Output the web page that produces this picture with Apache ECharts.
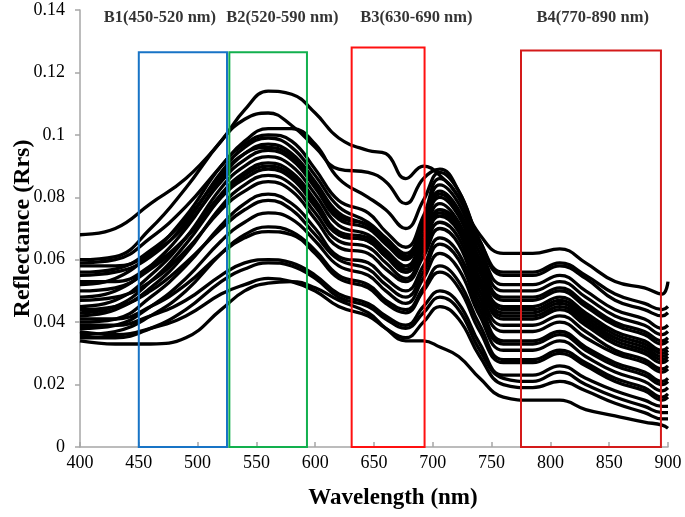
<!DOCTYPE html>
<html>
<head>
<meta charset="utf-8">
<script src="https://cdn.jsdelivr.net/npm/echarts@6/dist/echarts.min.js"></script>
<style>html,body{margin:0;padding:0;background:#fff;}#c{width:685px;height:517px;}</style>
</head>
<body>
<div id="c"></div>
<script>
// Wavelength sample points (nm)
var wavelengths = [400, 430, 460, 490, 520, 540, 560, 580, 600, 620, 645, 660, 677, 692, 706, 722, 740, 760, 785, 808, 830, 855, 880, 895, 900];

// Reflectance spectra (Rrs)
var c1  = [0.068, 0.070, 0.078, 0.086, 0.098, 0.108, 0.114, 0.113, 0.107, 0.099, 0.095, 0.094, 0.086, 0.090, 0.087, 0.080, 0.068, 0.062, 0.062, 0.0635, 0.059, 0.053, 0.051, 0.049, 0.053];
var c2  = [0.060, 0.061, 0.070, 0.083, 0.098, 0.105, 0.107, 0.103, 0.096, 0.089, 0.088, 0.085, 0.078, 0.086, 0.089, 0.082, 0.066, 0.056, 0.056, 0.059, 0.055, 0.049, 0.046, 0.044, 0.045];
var c3  = [0.059, 0.060, 0.067, 0.077, 0.090, 0.098, 0.102, 0.102, 0.097, 0.086, 0.080, 0.076, 0.070, 0.079, 0.088, 0.082, 0.066, 0.055, 0.055, 0.058, 0.054, 0.047, 0.044, 0.042, 0.043];
var c4  = [0.052, 0.054, 0.062, 0.074, 0.090, 0.097, 0.100, 0.098, 0.089, 0.079, 0.075, 0.069, 0.064, 0.074, 0.086, 0.080, 0.064, 0.052, 0.052, 0.055, 0.050, 0.044, 0.041, 0.038, 0.039];
var c5  = [0.055, 0.056, 0.061, 0.072, 0.088, 0.096, 0.099, 0.096, 0.087, 0.077, 0.072, 0.067, 0.062, 0.072, 0.084, 0.078, 0.062, 0.050, 0.050, 0.053, 0.048, 0.042, 0.039, 0.036, 0.037];
var c6  = [0.048, 0.050, 0.058, 0.070, 0.086, 0.094, 0.097, 0.094, 0.085, 0.075, 0.071, 0.066, 0.061, 0.071, 0.082, 0.076, 0.060, 0.048, 0.048, 0.051, 0.046, 0.040, 0.037, 0.034, 0.035];
var c7  = [0.058, 0.058, 0.062, 0.071, 0.085, 0.092, 0.095, 0.092, 0.083, 0.073, 0.070, 0.065, 0.060, 0.070, 0.080, 0.074, 0.058, 0.047, 0.047, 0.050, 0.045, 0.039, 0.036, 0.033, 0.034];
var c8  = [0.045, 0.047, 0.055, 0.067, 0.083, 0.090, 0.093, 0.090, 0.081, 0.071, 0.068, 0.063, 0.058, 0.068, 0.078, 0.072, 0.056, 0.045, 0.045, 0.048, 0.043, 0.037, 0.034, 0.031, 0.032];
var c9  = [0.050, 0.051, 0.057, 0.067, 0.081, 0.088, 0.091, 0.088, 0.079, 0.069, 0.067, 0.062, 0.057, 0.066, 0.076, 0.071, 0.054, 0.043, 0.043, 0.046, 0.041, 0.035, 0.032, 0.029, 0.030];
var c10 = [0.053, 0.053, 0.058, 0.067, 0.080, 0.086, 0.089, 0.086, 0.077, 0.068, 0.066, 0.061, 0.056, 0.065, 0.074, 0.069, 0.052, 0.041, 0.041, 0.044, 0.039, 0.033, 0.030, 0.027, 0.028];
var c11 = [0.042, 0.044, 0.051, 0.062, 0.077, 0.084, 0.087, 0.084, 0.075, 0.066, 0.064, 0.059, 0.054, 0.063, 0.072, 0.067, 0.050, 0.039, 0.039, 0.042, 0.037, 0.031, 0.028, 0.025, 0.026];
var c12 = [0.047, 0.048, 0.053, 0.063, 0.076, 0.082, 0.085, 0.082, 0.073, 0.064, 0.062, 0.057, 0.053, 0.061, 0.070, 0.065, 0.048, 0.037, 0.037, 0.040, 0.035, 0.030, 0.027, 0.024, 0.025];
var c13 = [0.040, 0.041, 0.048, 0.058, 0.071, 0.078, 0.081, 0.078, 0.070, 0.061, 0.059, 0.054, 0.050, 0.058, 0.067, 0.062, 0.046, 0.034, 0.034, 0.037, 0.032, 0.027, 0.024, 0.021, 0.022];
var c14 = [0.044, 0.045, 0.050, 0.059, 0.070, 0.076, 0.079, 0.076, 0.068, 0.060, 0.057, 0.052, 0.048, 0.056, 0.065, 0.060, 0.044, 0.033, 0.033, 0.036, 0.031, 0.026, 0.023, 0.020, 0.021];
var c15 = [0.038, 0.039, 0.045, 0.054, 0.066, 0.072, 0.075, 0.073, 0.066, 0.058, 0.055, 0.050, 0.046, 0.054, 0.062, 0.057, 0.042, 0.031, 0.031, 0.034, 0.029, 0.024, 0.021, 0.018, 0.019];
var c16 = [0.036, 0.037, 0.042, 0.050, 0.062, 0.068, 0.0705, 0.069, 0.063, 0.055, 0.052, 0.047, 0.044, 0.051, 0.058, 0.053, 0.039, 0.028, 0.028, 0.031, 0.027, 0.022, 0.019, 0.016, 0.017];
var c17 = [0.041, 0.041, 0.045, 0.052, 0.062, 0.067, 0.069, 0.068, 0.062, 0.054, 0.051, 0.046, 0.043, 0.050, 0.056, 0.051, 0.037, 0.027, 0.027, 0.030, 0.026, 0.021, 0.018, 0.015, 0.016];
var c18 = [0.039, 0.039, 0.042, 0.047, 0.055, 0.059, 0.060, 0.059, 0.055, 0.049, 0.046, 0.042, 0.039, 0.045, 0.050, 0.046, 0.033, 0.023, 0.023, 0.026, 0.022, 0.018, 0.015, 0.013, 0.013];
var c19 = [0.035, 0.035, 0.038, 0.044, 0.053, 0.057, 0.059, 0.058, 0.054, 0.048, 0.045, 0.041, 0.038, 0.043, 0.048, 0.044, 0.031, 0.022, 0.021, 0.024, 0.020, 0.016, 0.013, 0.011, 0.011];
var c20 = [0.037, 0.036, 0.038, 0.042, 0.049, 0.052, 0.054, 0.053, 0.050, 0.045, 0.042, 0.038, 0.035, 0.040, 0.045, 0.041, 0.029, 0.020, 0.019, 0.021, 0.018, 0.014, 0.011, 0.009, 0.009];
var c21 = [0.034, 0.033, 0.033, 0.035, 0.044, 0.050, 0.0525, 0.053, 0.051, 0.047, 0.043, 0.038, 0.034, 0.034, 0.032, 0.029, 0.022, 0.016, 0.015, 0.015, 0.012, 0.010, 0.008, 0.007, 0.006];
var c22 = [0.056, 0.057, 0.063, 0.073, 0.087, 0.094, 0.096, 0.093, 0.084, 0.074, 0.071, 0.066, 0.061, 0.071, 0.081, 0.075, 0.058, 0.044, 0.044, 0.047, 0.042, 0.036, 0.033, 0.030, 0.031];
var c23 = [0.043, 0.045, 0.053, 0.065, 0.080, 0.087, 0.090, 0.087, 0.078, 0.068, 0.066, 0.061, 0.056, 0.065, 0.075, 0.070, 0.053, 0.042, 0.042, 0.045, 0.040, 0.034, 0.031, 0.028, 0.029];

var spectra = [c1, c2, c3, c4, c5, c6, c7, c8, c9, c10, c11, c12, c13, c14, c15, c16, c17, c18, c19, c20, c21, c22, c23];

// Spectral bands
var bandNames = ['B1(450-520 nm)', 'B2(520-590 nm)', 'B3(630-690 nm)', 'B4(770-890 nm)'];
var bandStart = [450, 527, 631, 775];
var bandEnd   = [525, 593, 693, 894];
var bandTop   = [0.1265, 0.1265, 0.128, 0.127];
var bandColors = ['#1874C6', '#12B04E', '#FF1010', '#D41A1A'];
var bandLabelX = [468, 572, 686, 836];   // wavelength where each label is centred
var bandLabelY = 0.1375;

var yTicks = [0, 0.02, 0.04, 0.06, 0.08, 0.1, 0.12, 0.14];

var serif = '"Liberation Serif", "Times New Roman", serif';

var series = spectra.map(function (s, i) {
  return {
    type: 'line',
    name: 'S' + (i + 1),
    data: wavelengths.map(function (w, j) { return [w, s[j]]; }),
    showSymbol: false,
    symbol: 'none',
    smooth: 0.45,
    lineStyle: { color: '#000', width: 3.3 },
    z: 2,
    silent: true
  };
});

series.push({
  type: 'line',
  name: 'bands',
  data: [],
  z: 10,
  silent: true,
  markArea: {
    silent: true,
    z: 10,
    label: { show: false },
    data: bandStart.map(function (b, i) {
      return [
        { xAxis: b, yAxis: 0, itemStyle: { color: 'rgba(0,0,0,0)', borderColor: bandColors[i], borderWidth: 2 } },
        { xAxis: bandEnd[i], yAxis: bandTop[i] }
      ];
    })
  }
});

series.push({
  type: 'scatter',
  name: 'bandLabels',
  data: bandNames.map(function (n, i) { return [bandLabelX[i], bandLabelY]; }),
  symbolSize: 0,
  z: 11,
  silent: true,
  label: {
    show: true,
    position: 'inside',
    formatter: function (p) { return bandNames[p.dataIndex]; },
    fontFamily: serif,
    fontWeight: 'bold',
    fontSize: 16.5,
    color: '#000'
  }
});

var chart = echarts.init(document.getElementById('c'), null, { renderer: 'canvas' });
chart.setOption({
  backgroundColor: '#fff',
  animation: false,
  grid: { left: 80, right: 17, top: 10, bottom: 70, containLabel: false, outerBoundsMode: 'none' },
  xAxis: {
    type: 'value',
    min: 400, max: 900, interval: 50,
    name: 'Wavelength (nm)',
    nameLocation: 'middle',
    nameGap: 40,
    nameMoveOverlap: false,
    nameTextStyle: { fontFamily: serif, fontWeight: 'bold', fontSize: 23, color: '#000', padding: [0, 0, 0, 38] },
    axisLine: { show: true, lineStyle: { color: '#A6A6A6', width: 1.5 } },
    axisTick: { show: true, inside: true, length: 5, lineStyle: { color: '#A6A6A6', width: 1.5 } },
    axisLabel: { fontFamily: serif, fontSize: 18, color: '#000', margin: 7 },
    splitLine: { show: false }
  },
  yAxis: {
    type: 'value',
    min: 0, max: 0.14, interval: 0.02,
    name: 'Reflectance (Rrs)',
    nameLocation: 'middle',
    nameGap: 45,
    nameMoveOverlap: false,
    nameTextStyle: { fontFamily: serif, fontWeight: 'bold', fontSize: 24, color: '#000' },
    axisLine: { show: true, lineStyle: { color: '#A6A6A6', width: 1.5 } },
    axisTick: { show: true, inside: false, length: 5, lineStyle: { color: '#A6A6A6', width: 1.5 } },
    axisLabel: {
      fontFamily: serif, fontSize: 18, color: '#000', margin: 15,
      formatter: function (v) {
        var best = yTicks.reduce(function (a, b) { return Math.abs(b - v) < Math.abs(a - v) ? b : a; });
        return String(best);
      }
    },
    splitLine: { show: false }
  },
  series: series
});
</script>
</body>
</html>
